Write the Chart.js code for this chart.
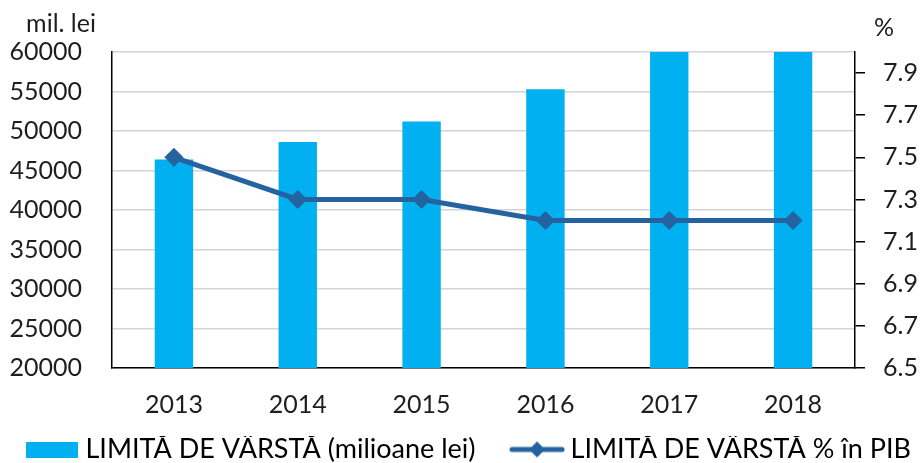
<!DOCTYPE html>
<html>
<head>
<meta charset="utf-8">
<script src="https://cdn.jsdelivr.net/npm/chart.js@4.4.1/dist/chart.umd.min.js"></script>
<style>
  html, body { margin: 0; padding: 0; background: #fff; }
  #wrap { width: 921px; height: 463px; }
</style>
</head>
<body>
<div id="wrap"><canvas id="chart" width="921" height="463"></canvas></div>
<script>
// ============ DATA ============
const years = ['2013', '2014', '2015', '2016', '2017', '2018'];
const valoriMilLei = [46400, 48600, 51200, 55300, 60000, 60000];
const procentPIB = [7.5, 7.3, 7.3, 7.2, 7.2, 7.2];
const tickuriStanga = [20000, 25000, 30000, 35000, 40000, 45000, 50000, 55000, 60000];
const tickuriDreapta = [6.5, 6.7, 6.9, 7.1, 7.3, 7.5, 7.7, 7.9];

const labelBar = 'LIMITĂ DE VÂRSTĂ (milioane lei)';
const labelLine = 'LIMITĂ DE VÂRSTĂ % în PIB';

// ============ STYLE ============
const BAR_COLOR = '#00B0F0';
const LINE_COLOR = '#2563A0';
const TEXT_COLOR = '#1e1e1e';
const FONT = 'Lato';

Chart.defaults.font.family = FONT;
Chart.defaults.color = TEXT_COLOR;

// legend symbols drawn on small canvases
function legendBarSymbol() {
    const c = document.createElement('canvas');
    c.width = 52; c.height = 16;
    const g = c.getContext('2d');
    g.fillStyle = BAR_COLOR;
    g.fillRect(0, 0, 52, 16);
    return c;
}

function legendLineSymbol() {
    const c = document.createElement('canvas');
    c.width = 56; c.height = 20;
    const g = c.getContext('2d');
    g.strokeStyle = LINE_COLOR;
    g.lineWidth = 5;
    g.lineCap = 'round';
    g.beginPath();
    g.moveTo(3, 10);
    g.lineTo(53, 10);
    g.stroke();
    g.fillStyle = LINE_COLOR;
    g.beginPath();
    g.moveTo(28, 2); g.lineTo(36, 10); g.lineTo(28, 18); g.lineTo(20, 10);
    g.closePath();
    g.fill();
    return c;
}

// axis unit captions above the two y axes
const unitTitles = {
    id: 'unitTitles',
    afterDraw(chart) {
        const ctx = chart.ctx;
        ctx.save();
        ctx.font = '25px ' + FONT;
        ctx.fillStyle = TEXT_COLOR;
        ctx.textBaseline = 'middle';
        ctx.textAlign = 'center';
        ctx.fillText('mil. lei', 61, 24);
        ctx.fillText('%', 884, 28);
        ctx.restore();
    }
};

const ctx = document.getElementById('chart').getContext('2d');

new Chart(ctx, {
    type: 'bar',
    data: {
        labels: years,
        datasets: [
            {
                type: 'line',
                label: labelLine,
                data: procentPIB,
                yAxisID: 'y1',
                borderColor: LINE_COLOR,
                backgroundColor: LINE_COLOR,
                borderWidth: 5,
                pointStyle: 'rectRot',
                pointRadius: 9,
                pointBorderWidth: 1,
                tension: 0,
                order: 1
            },
            {
                label: labelBar,
                data: valoriMilLei,
                yAxisID: 'y',
                backgroundColor: BAR_COLOR,
                barPercentage: 0.31,
                categoryPercentage: 1,
                order: 2
            }
        ]
    },
    options: {
        responsive: false,
        animation: false,
        // negative paddings: the legend's empty bottom strip falls off the canvas,
        // and the legend row is centred a little right of the canvas middle
        layout: { padding: { top: 52, left: 0, right: -22, bottom: -10 } },
        scales: {
            x: {
                grid: { display: false, drawTicks: false },
                border: { display: true, color: '#000', width: 1.5 },
                ticks: { font: { size: 25 }, padding: 22, color: TEXT_COLOR },
                afterFit(scale) { scale.height = 68; }
            },
            y: {
                position: 'left',
                min: 20000,
                max: 60000,
                grid: { color: '#d4d4d4', lineWidth: 1.5, drawTicks: false },
                border: { display: true, color: '#000', width: 1.5 },
                ticks: { font: { size: 25 }, padding: 30, color: TEXT_COLOR, callback: v => String(v) },
                afterBuildTicks(scale) { scale.ticks = tickuriStanga.map(v => ({ value: v })); },
                afterFit(scale) { scale.width = 112; }
            },
            y1: {
                position: 'right',
                min: 6.5,
                max: 8.0,
                grid: { drawOnChartArea: false, drawTicks: true, tickLength: 10, color: '#000', lineWidth: 1.5 },
                border: { display: true, color: '#000', width: 1.5 },
                ticks: {
                    font: { size: 25 },
                    padding: 18,
                    color: TEXT_COLOR,
                    callback: v => v.toFixed(1)
                },
                afterBuildTicks(scale) { scale.ticks = tickuriDreapta.map(v => ({ value: v })); },
                afterFit(scale) { scale.width = 88; }
            }
        },
        plugins: {
            tooltip: { enabled: false },
            legend: {
                position: 'bottom',
                labels: {
                    font: { size: 27 },
                    color: TEXT_COLOR,
                    usePointStyle: true,
                    pointStyleWidth: 40,
                    padding: 0,
                    generateLabels() {
                        return [
                            // trailing spaces keep the gap between the two legend entries
                            { text: labelBar + '      ', pointStyle: legendBarSymbol(), fillStyle: BAR_COLOR, strokeStyle: BAR_COLOR, lineWidth: 0, hidden: false, datasetIndex: 1 },
                            { text: labelLine, pointStyle: legendLineSymbol(), fillStyle: LINE_COLOR, strokeStyle: LINE_COLOR, lineWidth: 0, hidden: false, datasetIndex: 0 }
                        ];
                    }
                }
            }
        }
    },
    plugins: [unitTitles]
});
</script>
</body>
</html>
